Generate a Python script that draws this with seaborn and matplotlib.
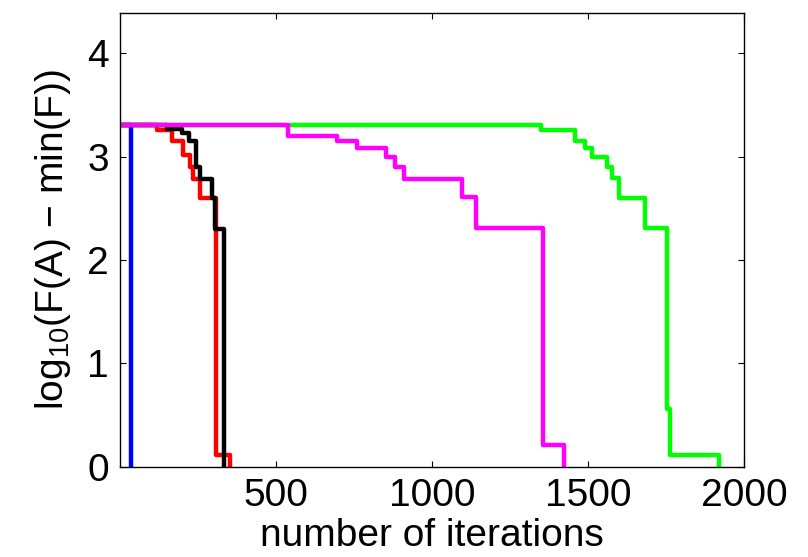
import pandas as pd
import seaborn as sns
import matplotlib.pyplot as plt

# step curves (last value just drops out of view)
blue_x = [1, 35]
blue_y = [3.30, -1]
red_x = [1, 121, 167, 202, 225, 236, 257, 309, 354]
red_y = [3.30, 3.26, 3.15, 3.01, 2.90, 2.78, 2.60, 0.116, -1]
black_x = [1, 151, 199, 223, 245, 257, 295, 305, 334]
black_y = [3.30, 3.27, 3.23, 3.15, 2.90, 2.78, 2.60, 2.30, -1]
green_x = [1, 1349, 1459, 1491, 1513, 1561, 1577, 1598, 1684, 1753, 1764, 1919]
green_y = [3.30, 3.26, 3.15, 3.08, 3.00, 2.90, 2.79, 2.60, 2.31, 0.56, 0.116, -1]
magenta_x = [1, 540, 697, 760, 853, 882, 911, 1096, 1142, 1356, 1422]
magenta_y = [3.30, 3.20, 3.15, 3.08, 3.00, 2.90, 2.78, 2.61, 2.31, 0.21, -1]

x_ticks = [500, 1000, 1500, 2000]
y_ticks = [0, 1, 2, 3, 4]

series = {
    'blue': (blue_x, blue_y),
    'red': (red_x, red_y),
    'black': (black_x, black_y),
    'green': (green_x, green_y),
    'magenta': (magenta_x, magenta_y),
}
colors = {'blue': '#0000ff', 'red': '#ff0000', 'black': '#000000',
          'green': '#00ff00', 'magenta': '#ff00ff'}

frames = []
for name, (xs, ys) in series.items():
    frames.append(pd.DataFrame({'iter': xs, 'val': ys, 'run': name}))
df = pd.concat(frames, ignore_index=True)

sns.set_style('white')
plt.rcParams['font.family'] = ['Liberation Sans', 'DejaVu Sans']
plt.rcParams['mathtext.default'] = 'regular'
plt.rcParams['text.color'] = 'black'
plt.rcParams['axes.labelcolor'] = 'black'
plt.rcParams['xtick.color'] = 'black'
plt.rcParams['ytick.color'] = 'black'

fig = plt.figure(figsize=(8.08, 5.57), dpi=100)
ax = fig.add_axes([0.1485, 0.1616, 0.7725, 0.8157])

sns.lineplot(data=df, x='iter', y='val', hue='run', palette=colors,
             hue_order=list(series.keys()), estimator=None, sort=False,
             drawstyle='steps-post', linewidth=3.2, legend=False, ax=ax)

ax.set_xlim(1, 2000)
ax.set_ylim(0, 4.39)
ax.set_xticks(x_ticks)
ax.set_yticks(y_ticks)
ax.tick_params(direction='in', length=4.5, width=0.8, labelsize=28,
               top=True, right=True, bottom=True, left=True, pad=8,
               colors='black')
for s in ax.spines.values():
    s.set_linewidth(1.0)
    s.set_color('black')
ax.set_xlabel('number of iterations', fontsize=28, labelpad=3)
ax.set_ylabel('log$_{10}$(F(A) − min(F))', fontsize=28, labelpad=10)

fig.savefig('out.png', dpi=100)
